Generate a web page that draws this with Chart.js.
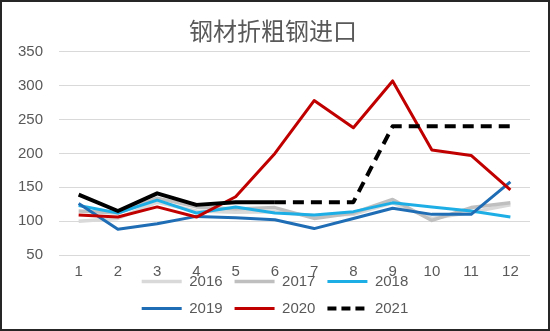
<!DOCTYPE html>
<html>
<head>
<meta charset="utf-8">
<script src="https://cdn.jsdelivr.net/npm/chart.js@4/dist/chart.umd.min.js"></script>
<style>
html,body{margin:0;padding:0;background:#fff;}
#wrap{width:550px;height:331px;box-sizing:border-box;border:2px solid #262626;background:#fff;}
canvas{display:block;}
</style>
</head>
<body>
<div id="wrap"><canvas id="c" width="546" height="327"></canvas></div>
<script>
const months = ['1','2','3','4','5','6','7','8','9','10','11','12'];
const yTicks = [50, 100, 150, 200, 250, 300, 350];
const s2016 = [100,104,128,115,113,114,108,110,127,104,113,124];
const s2017 = [115,112,134,121,118,120,104,112,132,101,120,127];
const s2018 = [123,112,131,112,121,112,109,114,127,121,115,106];
const s2019 = [126,88,96,107,105,102,89,104,119,110,110,158];
const s2020 = [109,106,121,106,136,200,278,238,307,205,197,146];
const s2021 = [139,115,141,124,128,128,128,128,240,240,240,240];
const title = '钢材折粗钢进口';

const tickFont = {family: "'Liberation Sans', Arial, sans-serif", size: 15};
const grey = '#595959';
const DASH = [11, 7];

function ds(label, data, color, width, order, dash) {
  const d = {
    label, data, borderColor: color, backgroundColor: color, borderWidth: width,
    pointRadius: 0, pointHoverRadius: 0, tension: 0, fill: false, order,
    borderDash: dash || [], borderCapStyle: 'butt', borderJoinStyle: 'round'
  };
  if (dash) {
    // solid through month 6, dashed afterwards (as in the reference)
    d.segment = {borderDash: ctx => ctx.p0DataIndex >= 5 ? dash : []};
  }
  return d;
}

const LEGEND_W = 340;
const legendFix = {
  id: 'legendFix',
  beforeLayout(chart) {
    const lg = chart.legend;
    if (lg && !lg._narrowed) {
      const orig = lg.update;
      lg.update = function (w, h, m) { return orig.call(this, Math.min(w, LEGEND_W), h, m); };
      lg._narrowed = true;
    }
  },
  afterLayout(chart) {
    const lg = chart.legend;
    if (lg) {
      const cw = chart.width;
      lg.left = (cw - LEGEND_W) / 2;
      lg.right = lg.left + LEGEND_W;
      lg.width = LEGEND_W;
      lg.top = 260;
      lg.bottom = lg.top + lg.height;
    }
    const tb = chart.titleBlock;
    if (tb) { tb.left += 7; tb.right += 7; }
  }
};

new Chart(document.getElementById('c'), {
  type: 'line',
  data: {
    labels: months,
    datasets: [
      ds('2016', s2016, '#d9d9d9', 3.5, 5),
      ds('2017', s2017, '#bfbfbf', 3.5, 4),
      ds('2018', s2018, '#1eaee6', 3, 3),
      ds('2019', s2019, '#1f6db5', 3, 2),
      ds('2020', s2020, '#c00000', 3, 1),
      ds('2021', s2021, '#000000', 4, 0, DASH)
    ]
  },
  options: {
    responsive: false,
    animation: false,
    devicePixelRatio: 1,
    layout: {padding: {left: 0, right: 18, top: 0, bottom: -24}},
    plugins: {
      title: {
        display: true, text: title, color: grey,
        font: {family: "'Noto Sans CJK SC', sans-serif", size: 24, weight: 'normal'},
        padding: {top: 14, bottom: 7}
      },
      legend: {
        position: 'bottom',
        labels: {
          usePointStyle: true, pointStyle: 'line', pointStyleWidth: 40,
          boxWidth: 40, padding: 12, color: grey, font: tickFont,
          sort: (a, b) => a.datasetIndex - b.datasetIndex,
          generateLabels(chart) {
            const items = Chart.defaults.plugins.legend.labels.generateLabels(chart);
            return items.map(it => {
              const d = chart.data.datasets[it.datasetIndex];
              it.lineWidth = d.borderWidth;
              it.strokeStyle = d.borderColor;
              it.lineDash = d.segment ? [9, 5] : [];
              it.lineCap = 'butt';
              it.pointStyle = 'line';
              return it;
            });
          }
        }
      },
      tooltip: {enabled: false}
    },
    scales: {
      x: {
        offset: true,
        grid: {display: false, drawTicks: false},
        border: {display: false},
        ticks: {color: grey, font: tickFont, padding: 8, maxRotation: 0, autoSkip: false}
      },
      y: {
        min: 50, max: 350,
        grid: {color: '#d9d9d9', lineWidth: 1, drawTicks: false},
        border: {display: false},
        afterBuildTicks(scale) { scale.ticks = yTicks.map(v => ({value: v})); },
        ticks: {color: grey, font: tickFont, padding: 16}
      }
    }
  },
  plugins: [legendFix]
});
</script>
</body>
</html>
